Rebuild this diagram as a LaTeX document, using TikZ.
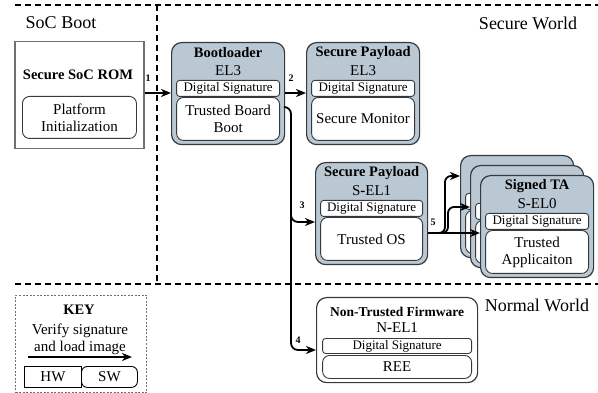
\documentclass[tikz,border=0pt]{standalone}
\usepackage{fontspec}
\IfFontExistsTF{LiberationSerif-Regular.ttf}{%
  \setmainfont{LiberationSerif}[Extension=.ttf, UprightFont=*-Regular, BoldFont=*-Bold, ItalicFont=*-Italic, BoldItalicFont=*-BoldItalic]}{%
  \setmainfont{Liberation Serif}}
\usetikzlibrary{arrows.meta}
\definecolor{blueF}{HTML}{BAC8D3}
\definecolor{bordc}{HTML}{35393D}
\definecolor{romc}{HTML}{707070}
\tikzset{
  outer/.style={draw=bordc, fill=blueF, rounded corners=10pt, line width=1.2pt, inner sep=0pt},
  wouter/.style={draw=bordc, fill=white, rounded corners=10pt, line width=1.2pt, inner sep=0pt},
  ttl/.style={inner sep=0pt, font=\rmfamily\bfseries\fontsize{14.5}{16}\selectfont},
  elt/.style={inner sep=0pt, font=\rmfamily\fontsize{15}{17}\selectfont},
  dsbox/.style={draw=bordc, fill=white, rounded corners=3pt, line width=0.9pt, inner sep=0pt, minimum height=16pt, font=\rmfamily\fontsize{13}{14}\selectfont},
  cbox/.style={draw=bordc, fill=white, rounded corners=7pt, line width=0.9pt, inner sep=0pt, align=center, font=\rmfamily\fontsize{15}{17}\selectfont},
  arr/.style={line width=1.8pt, -{Stealth[length=10pt, width=8pt, inset=3pt]}},
  divider/.style={line width=1.6pt, dash pattern=on 6pt off 4pt},
  num/.style={inner sep=0pt, font=\rmfamily\bfseries\fontsize{10}{11}\selectfont},
  world/.style={inner sep=0pt, font=\rmfamily\fontsize{18}{20}\selectfont},
}
\newcommand{\fwbox}[7]{%
  \node[outer, anchor=north west, minimum width=#4, minimum height=102] (#1) at (#2,#3) {};
  \node[ttl] (#1-t) at ([yshift=-11pt]#1.north) {#5};
  \node[elt] (#1-e) at ([yshift=-29pt]#1.north) {#6};
  \node[dsbox, minimum width=#4-10, anchor=north] (#1-ds) at ([yshift=-38pt]#1.north) {Digital Signature};
  \node[cbox, minimum width=#4-10, minimum height=43, anchor=north] (#1-c) at ([yshift=-55pt]#1.north) {#7};
}
\newcommand{\stackbox}[4]{%
  \node[outer, anchor=north west, minimum width=#4, minimum height=102] (#1) at (#2,#3) {};
  \node[dsbox, minimum width=#4-10, anchor=north] (#1-ds) at ([yshift=-38pt]#1.north) {};
  \node[cbox, minimum width=#4-10, minimum height=43, anchor=north] (#1-c) at ([yshift=-55pt]#1.north) {};
}
\begin{document}
\begin{tikzpicture}[x=1pt, y=-1pt]
\useasboundingbox (0,0) rectangle (598,393);
% dividers
\coordinate (dTL) at (15,5);
\coordinate (dTR) at (598,5);
\coordinate (dVB) at (157,284);
\coordinate (dVT) at (157,5);
\coordinate (dHL) at (15,284);
\coordinate (dHR) at (598,284);
\draw[divider] (dTL) -- (dTR);
\draw[divider] (dVT) -- (dVB);
\draw[divider] (dHL) -- (dHR);
\node[world] (socboot) at (61,23) {SoC Boot};
\node[world] (secworld) at (528,23) {Secure World};
\node[world] (normworld) at (537,305) {Normal World};

% ROM
\node[draw=romc, fill=white, line width=1.5pt, anchor=north west, minimum width=129, minimum height=107, inner sep=0pt] (rom) at (14,41) {};
\node[ttl] (rom-t) at (78,75) {Secure SoC ROM};
\node[cbox, anchor=north west, minimum width=114, minimum height=42] (rom-c) at (22,96) {Platform\\Initialization};

% blue boxes
\fwbox{boot}{171}{42}{113}{Bootloader}{EL3}{Trusted Board\\Boot}
\fwbox{sp3}{306}{42}{113}{Secure Payload}{EL3}{Secure Monitor}
\fwbox{sp1}{315}{162}{112}{Secure Payload}{S\textbf{-}EL1}{Trusted OS}
\stackbox{ta1}{460}{155}{113}
\stackbox{ta2}{470}{165}{113}
\fwbox{ta3}{480}{175}{113}{Signed TA}{S\textbf{-}EL0}{Trusted\\Applicaiton}

% Non-trusted firmware
\node[wouter, anchor=north west, minimum width=161, minimum height=85] (ntf) at (316,297) {};
\node[ttl, font=\rmfamily\bfseries\fontsize{13.5}{15}\selectfont] (ntf-t) at ([yshift=-15pt]ntf.north) {Non-Trusted Firmware};
\node[elt] (ntf-e) at ([yshift=-31pt]ntf.north) {N\textbf{-}EL1};
\node[dsbox, minimum width=149, minimum height=15, anchor=north] (ntf-ds) at ([yshift=-41pt]ntf.north) {Digital Signature};
\node[cbox, minimum width=149, minimum height=23, anchor=north] (ntf-c) at ([yshift=-58pt]ntf.north) {REE};

% arrows
\draw[arr] (rom.east |- 0,93) -- (boot.west |- 0,93);
\node[num] (n1) at (148,78) {1};
\draw[arr] (boot.east |- 0,93) -- (sp3.west |- 0,93);
\node[num] (n2) at (291,78) {2};
\coordinate (j3a) at (291,107);
\coordinate (j3b) at (291,222);
\coordinate (j4a) at (291,200);
\coordinate (j4b) at (291,350);
\draw[arr, rounded corners=7pt] (boot.east |- 0,107) -- (j3a) -- (j3b) -- (sp1.west |- 0,222);
\draw[arr, rounded corners=7pt] (j4a) -- (j4b) -- (ntf.west |- 0,350);
\node[num] (n3) at (302,205) {3};
\node[num] (n4) at (298,340) {4};
\coordinate (j5a) at (436,233);
\coordinate (j5b) at (445,233);
\coordinate (j5c) at (445,176);
\coordinate (j5d) at (448,233);
\coordinate (j5e) at (448,207);
\draw[arr] (sp1.east |- 0,233) -- (ta3.west |- 0,233);
\draw[arr, rounded corners=6pt] (j5a) -- (j5b) -- (j5c) -- (ta1.west |- 0,176);
\draw[arr, rounded corners=6pt] (j5a) -- (j5d) -- (j5e) -- (ta2.west |- 0,207);
\node[num] (n5) at (433,222) {5};

% KEY
\node[draw=romc, dash pattern=on 2pt off 1.5pt, line width=1pt, anchor=north west, minimum width=131, minimum height=97, inner sep=0pt] (key) at (15,295) {};
\node[ttl] (key-t) at (79,310) {KEY};
\node[elt] (key-1) at (80,331) {Verify signature};
\node[elt] (key-2) at (80,348) {and load image};
\coordinate (ka) at (28,357);
\coordinate (kb) at (132,357);
\draw[arr] (ka) -- (kb);
\node[draw=black, fill=white, line width=0.9pt, anchor=north west, minimum width=57, minimum height=21, inner sep=0pt, font=\rmfamily\fontsize{15}{17}\selectfont] (hw) at (24,366) {HW};
\node[draw=black, rounded corners=6pt, line width=0.9pt, anchor=north west, minimum width=56, minimum height=21, inner sep=0pt, font=\rmfamily\fontsize{15}{17}\selectfont] (sw) at (81,366) {SW};
\end{tikzpicture}
\end{document}
